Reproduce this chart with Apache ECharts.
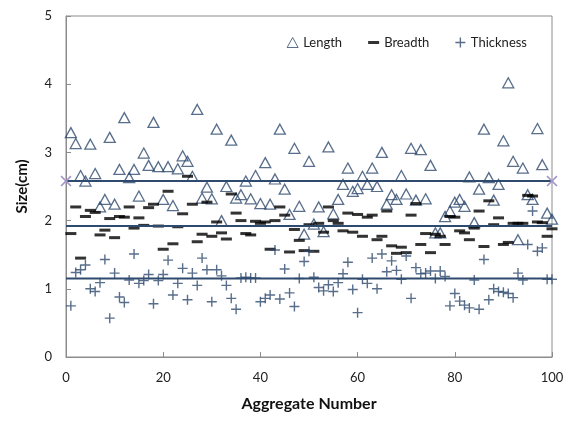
<!DOCTYPE html>
<html>
<head>
<meta charset="utf-8">
<script src="https://cdn.jsdelivr.net/npm/echarts@6/dist/echarts.min.js"></script>
<style>
  html, body { margin: 0; padding: 0; background: #fff; }
  #chart { width: 576px; height: 421px; }
</style>
</head>
<body>
<div id="chart"></div>
<script>
// aggregate numbers 1..100
const lengthVals = [
  3.29, 3.13, 2.66, 2.58, 3.12, 2.69, 2.20, 2.31, 3.22, 2.24,
  2.75, 3.51, 2.63, 2.75, 2.36, 2.99, 2.81, 3.44, 2.79, 2.31,
  2.79, 2.22, 2.76, 2.95, 2.87, 2.65, 3.63, 2.33, 2.49, 2.32,
  3.34, 2.00, 2.50, 3.18, 2.33, 2.38, 2.58, 2.32, 2.66, 2.25,
  2.85, 2.24, 2.61, 3.34, 2.46, 2.09, 3.06, 2.21, 1.80, 2.87,
  1.95, 2.20, 1.84, 3.08, 2.10, 2.31, 2.53, 2.77, 2.43, 2.47,
  2.65, 2.53, 2.77, 2.50, 3.00, 2.24, 2.38, 2.31, 2.66, 2.39,
  3.06, 2.30, 3.04, 2.32, 2.81, 1.82, 1.82, 2.06, 2.14, 2.27,
  2.31, 2.21, 2.64, 1.97, 2.46, 3.34, 2.63, 2.30, 2.53, 3.17,
  4.02, 2.87, 1.72, 2.77, 2.38, 2.31, 3.35, 2.82, 2.11, 2.02
];
const breadthVals = [
  1.81, 2.20, 1.45, 2.06, 2.15, 2.12, 1.79, 1.86, 2.03, 1.75,
  2.06, 2.05, 2.20, 1.89, 2.04, 1.93, 2.19, 2.24, 1.92, 1.58,
  2.43, 1.66, 1.91, 2.10, 2.65, 2.24, 1.69, 1.80, 2.27, 1.77,
  1.98, 1.82, 1.73, 2.39, 2.11, 2.00, 1.81, 1.79, 1.99, 1.96,
  1.98, 1.58, 2.00, 2.20, 2.08, 1.54, 1.87, 1.71, 1.56, 1.94,
  1.55, 1.96, 1.83, 2.20, 2.00, 1.96, 1.85, 2.11, 1.83, 2.09,
  1.77, 2.05, 2.08, 1.72, 1.77, 2.14, 1.63, 1.52, 1.61, 1.53,
  2.08, 2.25, 1.65, 1.81, 1.53, 1.80, 1.77, 1.65, 2.06, 2.05,
  1.85, 1.82, 1.72, 1.89, 2.14, 1.62, 2.29, 1.94, 2.04, 1.65,
  1.68, 1.96, 1.96, 1.96, 2.37, 2.36, 1.98, 1.97, 1.77, 1.88
];
const thicknessVals = [
  0.75, 1.24, 1.28, 1.35, 1.00, 0.96, 1.09, 1.43, 0.57, 1.23,
  0.88, 0.80, 1.13, 1.51, 1.08, 1.12, 1.21, 0.78, 1.12, 1.21,
  1.42, 0.91, 1.08, 1.30, 0.84, 1.23, 1.05, 1.45, 1.28, 0.81,
  1.28, 1.19, 1.05, 0.86, 0.70, 1.16, 1.17, 1.16, 1.16, 0.81,
  0.86, 0.91, 1.57, 0.85, 1.29, 0.94, 0.74, 1.15, 1.40, 1.55,
  1.17, 1.02, 0.97, 1.06, 0.96, 1.09, 1.22, 1.39, 0.99, 0.65,
  1.14, 1.08, 1.45, 1.00, 1.51, 1.25, 1.41, 1.27, 1.14, 1.48,
  0.86, 1.31, 1.22, 1.23, 1.26, 1.15, 1.26, 1.18, 0.75, 0.93,
  0.82, 0.76, 0.72, 1.13, 0.70, 1.43, 0.84, 1.00, 0.96, 0.95,
  0.93, 0.87, 1.23, 1.13, 1.65, 2.14, 1.55, 1.60, 1.14, 1.14
];
// average lines (length, breadth, thickness)
const avgVals = [2.58, 1.92, 1.15];
const seriesNames = ['Length', 'Breadth', 'Thickness'];

const toPoints = arr => arr.map((v, i) => [i + 1, v]);
const plusPath = 'path://M4.3,0h1.4v10h-1.4zM0,4.3h10v1.4h-10z';
const crossPath = 'path://M0,1L1,0L5,4L9,0L10,1L6,5L10,9L9,10L5,6L1,10L0,9L4,5z';
const navy = '#2E4A6E';
const font = 'Lato, "Open Sans", sans-serif';

const chart = echarts.init(document.getElementById('chart'));
chart.setOption({
  animation: false,
  backgroundColor: '#fff',
  grid: { left: 66, right: 24, top: 16, bottom: 64, show: true, borderColor: '#8c8c8c', borderWidth: 1 },
  legend: {
    top: 31, right: 44,
    itemGap: 26, itemWidth: 11, itemHeight: 10,
    textStyle: { fontFamily: font, fontSize: 13, color: '#222' },
    data: [
      { name: 'Length', icon: 'triangle', itemStyle: { color: 'transparent', borderColor: navy, borderWidth: 1 } },
      { name: 'Breadth', icon: 'path://M0,0h11v3h-11z', itemStyle: { color: '#000' } },
      { name: 'Thickness', icon: plusPath, itemStyle: { color: navy } }
    ]
  },
  xAxis: {
    type: 'value', min: 0, max: 100, interval: 20,
    name: 'Aggregate Number', nameLocation: 'middle', nameGap: 39,
    nameTextStyle: { fontFamily: font, fontSize: 16, fontWeight: 'bold', color: '#111' },
    axisLine: { lineStyle: { color: '#8c8c8c' } },
    axisTick: { inside: true, length: 5, lineStyle: { color: '#8c8c8c' } },
    axisLabel: { fontFamily: font, fontSize: 13, color: '#222', margin: 14 },
    splitLine: { show: false }
  },
  yAxis: {
    type: 'value', min: 0, max: 5, interval: 1,
    name: 'Size(cm)', nameLocation: 'middle', nameGap: 36,
    nameTextStyle: { fontFamily: font, fontSize: 15, fontWeight: 'bold', color: '#111' },
    axisLine: { show: true, lineStyle: { color: '#8c8c8c' } },
    axisTick: { show: true, inside: true, length: 5, lineStyle: { color: '#8c8c8c' } },
    axisLabel: { fontFamily: font, fontSize: 13, color: '#222', margin: 14 },
    splitLine: { show: false }
  },
  series: [
    {
      name: seriesNames[0], type: 'scatter', symbol: 'triangle', symbolSize: [11, 10],
      itemStyle: { color: 'transparent', borderColor: navy, borderWidth: 1.3 },
      data: toPoints(lengthVals), z: 3
    },
    {
      name: seriesNames[1], type: 'scatter', symbol: 'rect', symbolSize: [11, 3],
      itemStyle: { color: '#000' },
      data: toPoints(breadthVals), z: 3
    },
    {
      name: seriesNames[2], type: 'scatter', symbol: plusPath, symbolSize: 10,
      itemStyle: { color: navy },
      data: toPoints(thicknessVals), z: 3
    },
    {
      type: 'line', symbol: crossPath, symbolSize: 11, showSymbol: true,
      itemStyle: { color: '#A394C8' }, lineStyle: { color: navy, width: 2 },
      data: [[0, avgVals[0]], [100, avgVals[0]]], z: 4, silent: true
    },
    {
      type: 'line', showSymbol: false, lineStyle: { color: navy, width: 2 },
      data: [[0, avgVals[1]], [100, avgVals[1]]], z: 4, silent: true
    },
    {
      type: 'line', showSymbol: false, lineStyle: { color: navy, width: 2 },
      data: [[0, avgVals[2]], [100, avgVals[2]]], z: 4, silent: true
    }
  ]
});
</script>
</body>
</html>
